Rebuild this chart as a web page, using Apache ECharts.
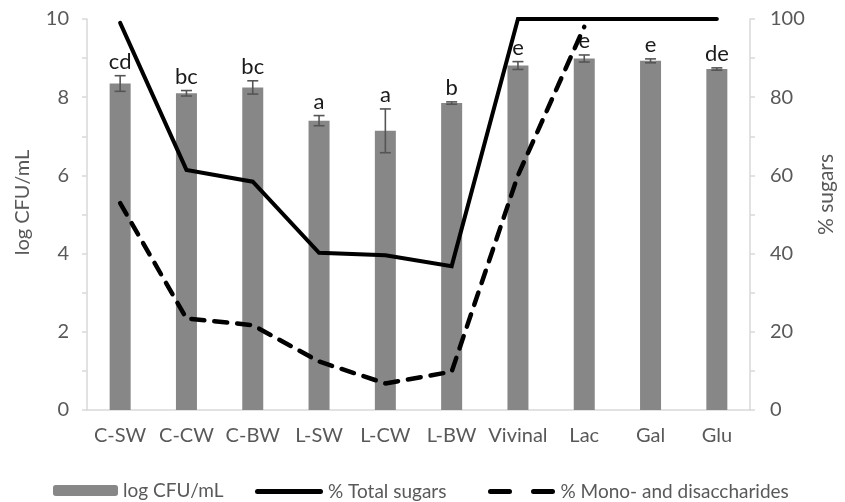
<!DOCTYPE html>
<html><head><meta charset="utf-8">
<script src="https://cdn.jsdelivr.net/npm/echarts@6/dist/echarts.min.js"></script>
<style>html,body{margin:0;padding:0;background:#fff}#c{width:845px;height:502px}</style>
</head><body><div id="c"></div>
<script>
const categories = ['C-SW','C-CW','C-BW','L-SW','L-CW','L-BW','Vivinal','Lac','Gal','Glu'];
const logCFU = [8.35, 8.10, 8.25, 7.40, 7.14, 7.85, 8.81, 8.99, 8.93, 8.72];
const logErr = [0.20, 0.07, 0.17, 0.13, 0.56, 0.03, 0.10, 0.09, 0.05, 0.03];
const letters = ['cd','bc','bc','a','a','b','e','e','e','de'];
const totalSugars = [99, 61.4, 58.4, 40.2, 39.6, 36.8, 100, 100, 100, 100];
const monoDi = [52.9, 23.4, 21.7, 12.4, 6.8, 9.8, 60, 98, null, null];
const leftTicks = [0, 2, 4, 6, 8, 10];
const rightTicks = [0, 20, 40, 60, 80, 100];

const FONT = 'Lato';
const GRAY = '#595959';
const chart = echarts.init(document.getElementById('c'));
const errData = categories.map((c, i) => [i, logCFU[i], logErr[i], letters[i]]);
const legendText = {fontFamily: FONT, fontSize: 19, color: GRAY};

chart.setOption({
  animation: false,
  textStyle: {fontFamily: FONT},
  grid: {left: 87, right: 90, top: 19, bottom: 92},
  legend: [
    {data: ['log CFU/mL'], left: 48, top: 476, itemWidth: 65, itemHeight: 11, itemGap: 0,
     textStyle: legendText},
    {data: [{name: '% Total sugars', icon: 'path://M2.5,0H65.5A2.5,2.5,0,0,1,65.5,5H2.5A2.5,2.5,0,0,1,2.5,0Z'}],
     left: 250, top: 477, itemWidth: 68, itemHeight: 5, itemGap: 0,
     textStyle: legendText},
    {data: [{name: '% Mono- and disaccharides',
             icon: 'path://M2.5,0H21.5A2.5,2.5,0,0,1,21.5,5H2.5A2.5,2.5,0,0,1,2.5,0Z M45.5,0H64.5A2.5,2.5,0,0,1,64.5,5H45.5A2.5,2.5,0,0,1,45.5,0Z'}],
     left: 483, top: 477, itemWidth: 68, itemHeight: 5, itemGap: 0,
     textStyle: legendText}
  ],
  xAxis: {
    type: 'category', data: categories, boundaryGap: true,
    axisLine: {lineStyle: {color: '#d9d9d9', width: 1.5}},
    axisTick: {show: false},
    axisLabel: {color: GRAY, fontSize: 20, fontFamily: FONT, margin: 16, interval: 0}
  },
  yAxis: [
    {
      type: 'value', min: 0, max: 10, interval: 2,
      name: 'log CFU/mL', nameLocation: 'middle', nameRotate: 90, nameGap: 54,
      nameTextStyle: {color: GRAY, fontSize: 20, fontFamily: FONT, padding: [0, 0, 0, 24]},
      axisLine: {show: true, lineStyle: {color: '#d9d9d9', width: 1.5}},
      axisTick: {show: true, length: 5, lineStyle: {color: '#d9d9d9', width: 1.5}},
      minorTick: {show: true, splitNumber: 2, length: 5, lineStyle: {color: '#d9d9d9', width: 1.5}},
      splitLine: {show: false},
      axisLabel: {color: GRAY, fontSize: 20, fontFamily: FONT, margin: 18,
        formatter: v => leftTicks.includes(v) ? String(v) : ''}
    },
    {
      type: 'value', min: 0, max: 100, interval: 20, position: 'right',
      name: '% sugars', nameLocation: 'middle', nameRotate: 90, nameGap: 66,
      nameTextStyle: {color: GRAY, fontSize: 21, fontFamily: FONT, padding: [0, 0, 0, 40]},
      axisLine: {show: true, lineStyle: {color: '#d9d9d9', width: 1.5}},
      axisTick: {show: true, length: 5, lineStyle: {color: '#d9d9d9', width: 1.5}},
      minorTick: {show: true, splitNumber: 2, length: 5, lineStyle: {color: '#d9d9d9', width: 1.5}},
      splitLine: {show: false},
      axisLabel: {color: GRAY, fontSize: 20, fontFamily: FONT, margin: 20,
        formatter: v => rightTicks.includes(v) ? String(v) : ''}
    }
  ],
  series: [
    {
      name: 'log CFU/mL', type: 'bar', data: logCFU, barWidth: 21, yAxisIndex: 0,
      itemStyle: {color: '#878787'}, z: 2
    },
    {
      name: 'errors', type: 'custom', yAxisIndex: 0, data: errData, z: 3,
      renderItem: function (params, api) {
        const i = api.value(0), v = api.value(1), e = api.value(2);
        const top = api.coord([i, v + e]);
        const bot = api.coord([i, v - e]);
        const x = top[0], hw = 5.5;
        const st = {stroke: '#555555', lineWidth: 1.6};
        return {
          type: 'group',
          children: [
            {type: 'line', shape: {x1: x, y1: top[1], x2: x, y2: bot[1]}, style: st},
            {type: 'line', shape: {x1: x - hw, y1: top[1], x2: x + hw, y2: top[1]}, style: st},
            {type: 'line', shape: {x1: x - hw, y1: bot[1], x2: x + hw, y2: bot[1]}, style: st},
            {type: 'text', x: x, y: top[1] - 3,
             style: {text: letters[params.dataIndex], fill: '#1a1a1a', font: '22px ' + FONT,
                     textAlign: 'center', textVerticalAlign: 'bottom'}}
          ]
        };
      }
    },
    {
      name: '% Total sugars', type: 'line', data: totalSugars, yAxisIndex: 1,
      symbol: 'none', lineStyle: {color: '#000', width: 4, cap: 'round', join: 'miter'},
      itemStyle: {color: '#000'}, z: 4
    },
    {
      name: '% Mono- and disaccharides', type: 'line', data: monoDi, yAxisIndex: 1,
      symbol: 'none', connectNulls: false,
      lineStyle: {color: '#000', width: 4.5, type: [13, 10], cap: 'round', join: 'round'},
      itemStyle: {color: '#000'}, z: 4
    }
  ]
});
</script></body></html>
